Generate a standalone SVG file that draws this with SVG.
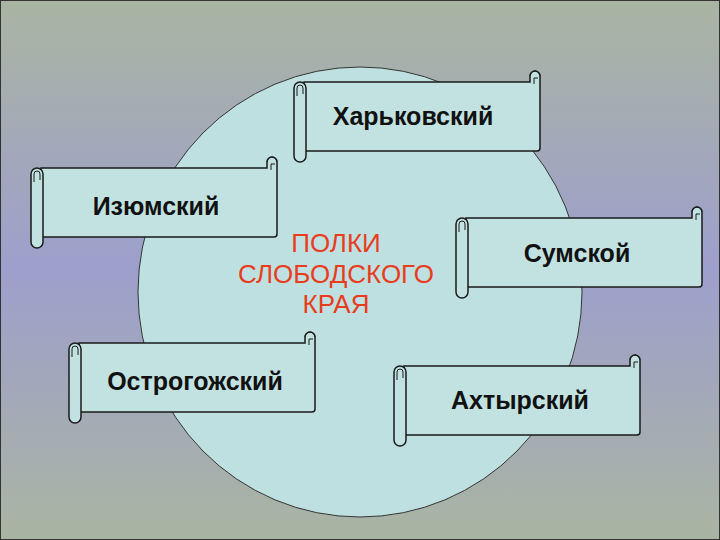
<svg xmlns="http://www.w3.org/2000/svg" width="720" height="540" viewBox="0 0 720 540">
<defs>
<linearGradient id="bg" x1="0" y1="0" x2="0" y2="1">
<stop offset="0" stop-color="#a9b5a2"/><stop offset="0.5" stop-color="#9d9fcc"/><stop offset="1" stop-color="#a9b5a2"/>
</linearGradient>
<g id="scroll">
<path d="M10,0 H236 V-6 a5,5 0 0 1 10,0 V66 a3,3 0 0 1 -3,3 H10 Z" fill="#c2e2e2" stroke="#1a1a1a" stroke-width="1.5"/>
<path d="M236,-6 a5,5 0 0 1 10,0 M240,2 V-4 H244" fill="none" stroke="#1a1a1a" stroke-width="1"/>
<rect x="0" y="0" width="12" height="80" rx="6" fill="#c2e2e2" stroke="#1a1a1a" stroke-width="1.5"/>
<path d="M3,14 V6 a3,3 0 0 1 6,0 V12" fill="none" stroke="#1a1a1a" stroke-width="1"/>
</g>
<style>.t{font-family:"Liberation Sans",Arial,sans-serif;font-weight:bold;font-size:25px;fill:#111;text-anchor:middle}.c{font-family:"Liberation Sans",Arial,sans-serif;font-size:26px;fill:#e83c1c;text-anchor:middle}</style>
</defs>
<rect width="720" height="540" fill="url(#bg)"/>
<rect x="0.5" y="0.5" width="719" height="539" fill="none" stroke="#333"/>
<ellipse cx="360" cy="292" rx="222" ry="225" fill="#bfe0e0" stroke="#333" stroke-width="1"/>
<g id="center"><text class="c" x="336" y="252">ПОЛКИ</text><text class="c" x="336" y="283">СЛОБОДСКОГО</text><text class="c" x="336" y="313">КРАЯ</text></g>
<g id="n1" transform="translate(294,82)"><use href="#scroll"/><text class="t" x="119" y="43" font-size="26">Харьковский</text></g>
<g id="n2" transform="translate(31,168)"><use href="#scroll"/><text class="t" x="125" y="47">Изюмский</text></g>
<g id="n3" transform="translate(456,218)"><use href="#scroll"/><text class="t" x="121" y="44">Сумской</text></g>
<g id="n4" transform="translate(69,343)"><use href="#scroll"/><text class="t" x="126" y="47">Острогожский</text></g>
<g id="n5" transform="translate(394,366)"><use href="#scroll"/><text class="t" x="126" y="43">Ахтырский</text></g>
<g id="connectors"/>
</svg>
